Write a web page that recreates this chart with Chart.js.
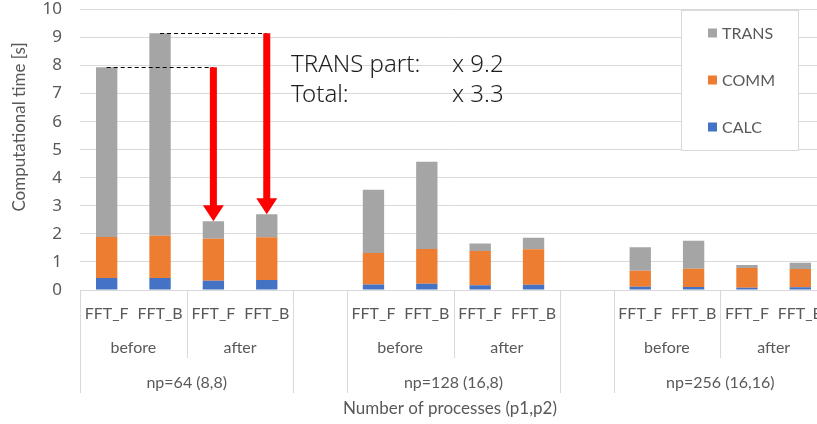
<!DOCTYPE html>
<html>
<head>
<meta charset="utf-8">
<script src="https://cdn.jsdelivr.net/npm/chart.js@4/dist/chart.umd.min.js"></script>
<style>
  html, body { margin: 0; padding: 0; overflow: hidden; background: #fff; width: 817px; height: 424px; }
  #wrap { position: absolute; left: 0; top: 0; width: 827px; height: 424px; }
</style>
</head>
<body>
<div id="wrap"><canvas id="chart" width="827" height="424"></canvas></div>
<script>
// Process-count groups, before/after phases and FFT kernels (three-level category axis)
const groupLabels  = ['np=64 (8,8)', 'np=128 (16,8)', 'np=256 (16,16)'];
const phaseLabels  = ['before', 'after'];
const kernelLabels = ['FFT_F', 'FFT_B'];

// Time breakdown in seconds, one entry per bar (group × phase × kernel)
const calcValues  = [0.43, 0.43, 0.33, 0.36, 0.20, 0.22, 0.17, 0.19, 0.12, 0.11, 0.08, 0.10];
const commValues  = [1.46, 1.50, 1.50, 1.52, 1.12, 1.24, 1.22, 1.26, 0.57, 0.65, 0.70, 0.65];
const transValues = [6.05, 7.22, 0.62, 0.82, 2.25, 3.11, 0.27, 0.41, 0.83, 1.00, 0.11, 0.22];

const yMin = 0, yMax = 10, yStep = 1;

const seriesNames  = ['CALC', 'COMM', 'TRANS'];
const seriesColors = ['#4472C4', '#ED7D31', '#A5A5A5'];

// Lay bars out on category slots, with an empty slot between process groups
const barsPerGroup = phaseLabels.length * kernelLabels.length;
const slotsPerGroup = barsPerGroup + 1;
const slotCount = groupLabels.length * slotsPerGroup - 1;
const slotLabels = [];
const barSlot = [];
for (let s = 0; s < slotCount; s++) {
  const k = s % slotsPerGroup;
  slotLabels.push(k < barsPerGroup ? kernelLabels[k % kernelLabels.length] : '');
}
for (let i = 0; i < calcValues.length; i++) {
  const g = Math.floor(i / barsPerGroup);
  barSlot.push(g * slotsPerGroup + (i % barsPerGroup));
}
function toSlots(values) {
  const out = new Array(slotCount).fill(null);
  values.forEach((v, i) => { out[barSlot[i]] = v; });
  return out;
}
const totals = calcValues.map((v, i) => v + commValues[i] + transValues[i]);

// Speed-up of the np=64 case (bars 0,1 before; bars 2,3 after)
const sum = (arr, idx) => idx.reduce((a, i) => a + arr[i], 0);
const transSpeedup = sum(transValues, [0, 1]) / sum(transValues, [2, 3]);
const totalSpeedup = sum(totals, [0, 1]) / sum(totals, [2, 3]);

const axisColor = '#595959';
const lineColor = '#d9d9d9';
const labelFont = '16px Lato, "Noto Sans", sans-serif';

const overlay = {
  id: 'overlay',
  afterDraw(chart) {
    const ctx = chart.ctx;
    const x = chart.scales.x, y = chart.scales.y;
    const area = chart.chartArea;
    const slotW = x.getPixelForValue(1) - x.getPixelForValue(0);
    const edge = s => x.getPixelForValue(s) - slotW / 2;

    ctx.save();
    // Category axis separators
    ctx.strokeStyle = lineColor;
    ctx.lineWidth = 1;
    const fullBottom = 393, halfBottom = 358;
    const vline = (px, bottom) => {
      const xx = Math.round(px) + 0.5;
      ctx.beginPath(); ctx.moveTo(xx, area.bottom); ctx.lineTo(xx, bottom); ctx.stroke();
    };
    for (let g = 0; g < groupLabels.length; g++) {
      const s0 = g * slotsPerGroup;
      vline(edge(s0), fullBottom);
      for (let p = 1; p < phaseLabels.length; p++) vline(edge(s0 + p * kernelLabels.length), halfBottom);
      vline(edge(s0 + barsPerGroup), fullBottom);
    }

    // Category labels (three rows)
    ctx.fillStyle = axisColor;
    ctx.font = labelFont;
    ctx.textAlign = 'center';
    ctx.textBaseline = 'middle';
    for (let g = 0; g < groupLabels.length; g++) {
      const s0 = g * slotsPerGroup;
      for (let p = 0; p < phaseLabels.length; p++) {
        const ps = s0 + p * kernelLabels.length;
        for (let k = 0; k < kernelLabels.length; k++) {
          ctx.fillText(kernelLabels[k], x.getPixelForValue(ps + k), 314);
        }
        ctx.fillText(phaseLabels[p], (edge(ps) + edge(ps + kernelLabels.length)) / 2, 348);
      }
      ctx.fillText(groupLabels[g], (edge(s0) + edge(s0 + barsPerGroup)) / 2, 383);
    }

    // Axis titles
    ctx.font = '17px Lato, "Noto Sans", sans-serif';
    ctx.fillText('Number of processes (p1,p2)', 450, 409);
    ctx.save();
    ctx.translate(20, 127);
    ctx.rotate(-Math.PI / 2);
    ctx.fillText('Computational time [s]', 0, 0);
    ctx.restore();

    // Dashed guides and red arrows: before totals -> after totals (np=64)
    const pairs = [[0, 2], [1, 3]];
    pairs.forEach(([b, a]) => {
      const xb = x.getPixelForValue(barSlot[b]);
      const xa = x.getPixelForValue(barSlot[a]);
      const yb = y.getPixelForValue(totals[b]);
      const ya = y.getPixelForValue(totals[a]);
      ctx.setLineDash([4, 3]);
      ctx.strokeStyle = '#000';
      ctx.lineWidth = 1;
      ctx.beginPath();
      ctx.moveTo(xb, Math.round(yb) + 0.5);
      ctx.lineTo(xa, Math.round(yb) + 0.5);
      ctx.stroke();
      ctx.setLineDash([]);
      const shaftW = 7, headW = 21, headL = 16;
      ctx.fillStyle = '#ff0000';
      ctx.beginPath();
      ctx.moveTo(xa - shaftW / 2, yb);
      ctx.lineTo(xa + shaftW / 2, yb);
      ctx.lineTo(xa + shaftW / 2, ya - headL);
      ctx.lineTo(xa + headW / 2, ya - headL);
      ctx.lineTo(xa, ya);
      ctx.lineTo(xa - headW / 2, ya - headL);
      ctx.lineTo(xa - shaftW / 2, ya - headL);
      ctx.closePath();
      ctx.fill();
    });

    // Speed-up annotation
    ctx.fillStyle = '#1e1e1e';
    ctx.font = '300 24px "Noto Sans", sans-serif';
    ctx.textAlign = 'left';
    ctx.textBaseline = 'alphabetic';
    ctx.fillText('TRANS part:', 291, 72);
    ctx.fillText('x ' + transSpeedup.toFixed(1), 452, 72);
    ctx.fillText('Total:', 291, 102);
    ctx.fillText('x ' + totalSpeedup.toFixed(1), 452, 102);

    // Legend box (top series first)
    const bx = 681.5, by = 10.5, bw = 117, bh = 140;
    ctx.fillStyle = '#fff';
    ctx.fillRect(bx, by, bw, bh);
    ctx.strokeStyle = lineColor;
    ctx.strokeRect(bx, by, bw, bh);
    ctx.font = labelFont;
    ctx.textBaseline = 'middle';
    const legendY = [33, 80, 127];
    [2, 1, 0].forEach((si, row) => {
      ctx.fillStyle = seriesColors[si];
      ctx.fillRect(708, legendY[row] - 4.5, 9, 9);
      ctx.fillStyle = axisColor;
      ctx.fillText(seriesNames[si], 722, legendY[row] + 1);
    });
    ctx.restore();
  }
};

const seriesValues = [calcValues, commValues, transValues];

new Chart(document.getElementById('chart'), {
  type: 'bar',
  data: {
    labels: slotLabels,
    datasets: seriesNames.map((name, i) => ({
      label: name,
      data: toSlots(seriesValues[i]),
      backgroundColor: seriesColors[i],
      borderWidth: 0,
      categoryPercentage: 1.0,
      barPercentage: 0.4
    }))
  },
  options: {
    responsive: false,
    animation: false,
    devicePixelRatio: 1,
    layout: { padding: { top: 9.5, left: 0, right: 0, bottom: 0 } },
    plugins: { legend: { display: false }, tooltip: { enabled: false } },
    scales: {
      x: {
        stacked: true,
        grid: { display: false },
        border: { display: false },
        ticks: { display: false },
        afterFit(scale) { scale.height = 134; }
      },
      y: {
        stacked: true,
        min: yMin, max: yMax,
        ticks: {
          stepSize: yStep,
          color: axisColor,
          padding: 18,
          font: { family: '"Noto Sans", sans-serif', size: 17, lineHeight: 1 }
        },
        grid: { color: lineColor, drawTicks: false },
        border: { display: false },
        afterFit(scale) {
          scale.width = 80;
          scale.paddingTop = 0;
          scale.paddingBottom = 0;
        }
      }
    }
  },
  plugins: [overlay]
});
</script>
</body>
</html>
